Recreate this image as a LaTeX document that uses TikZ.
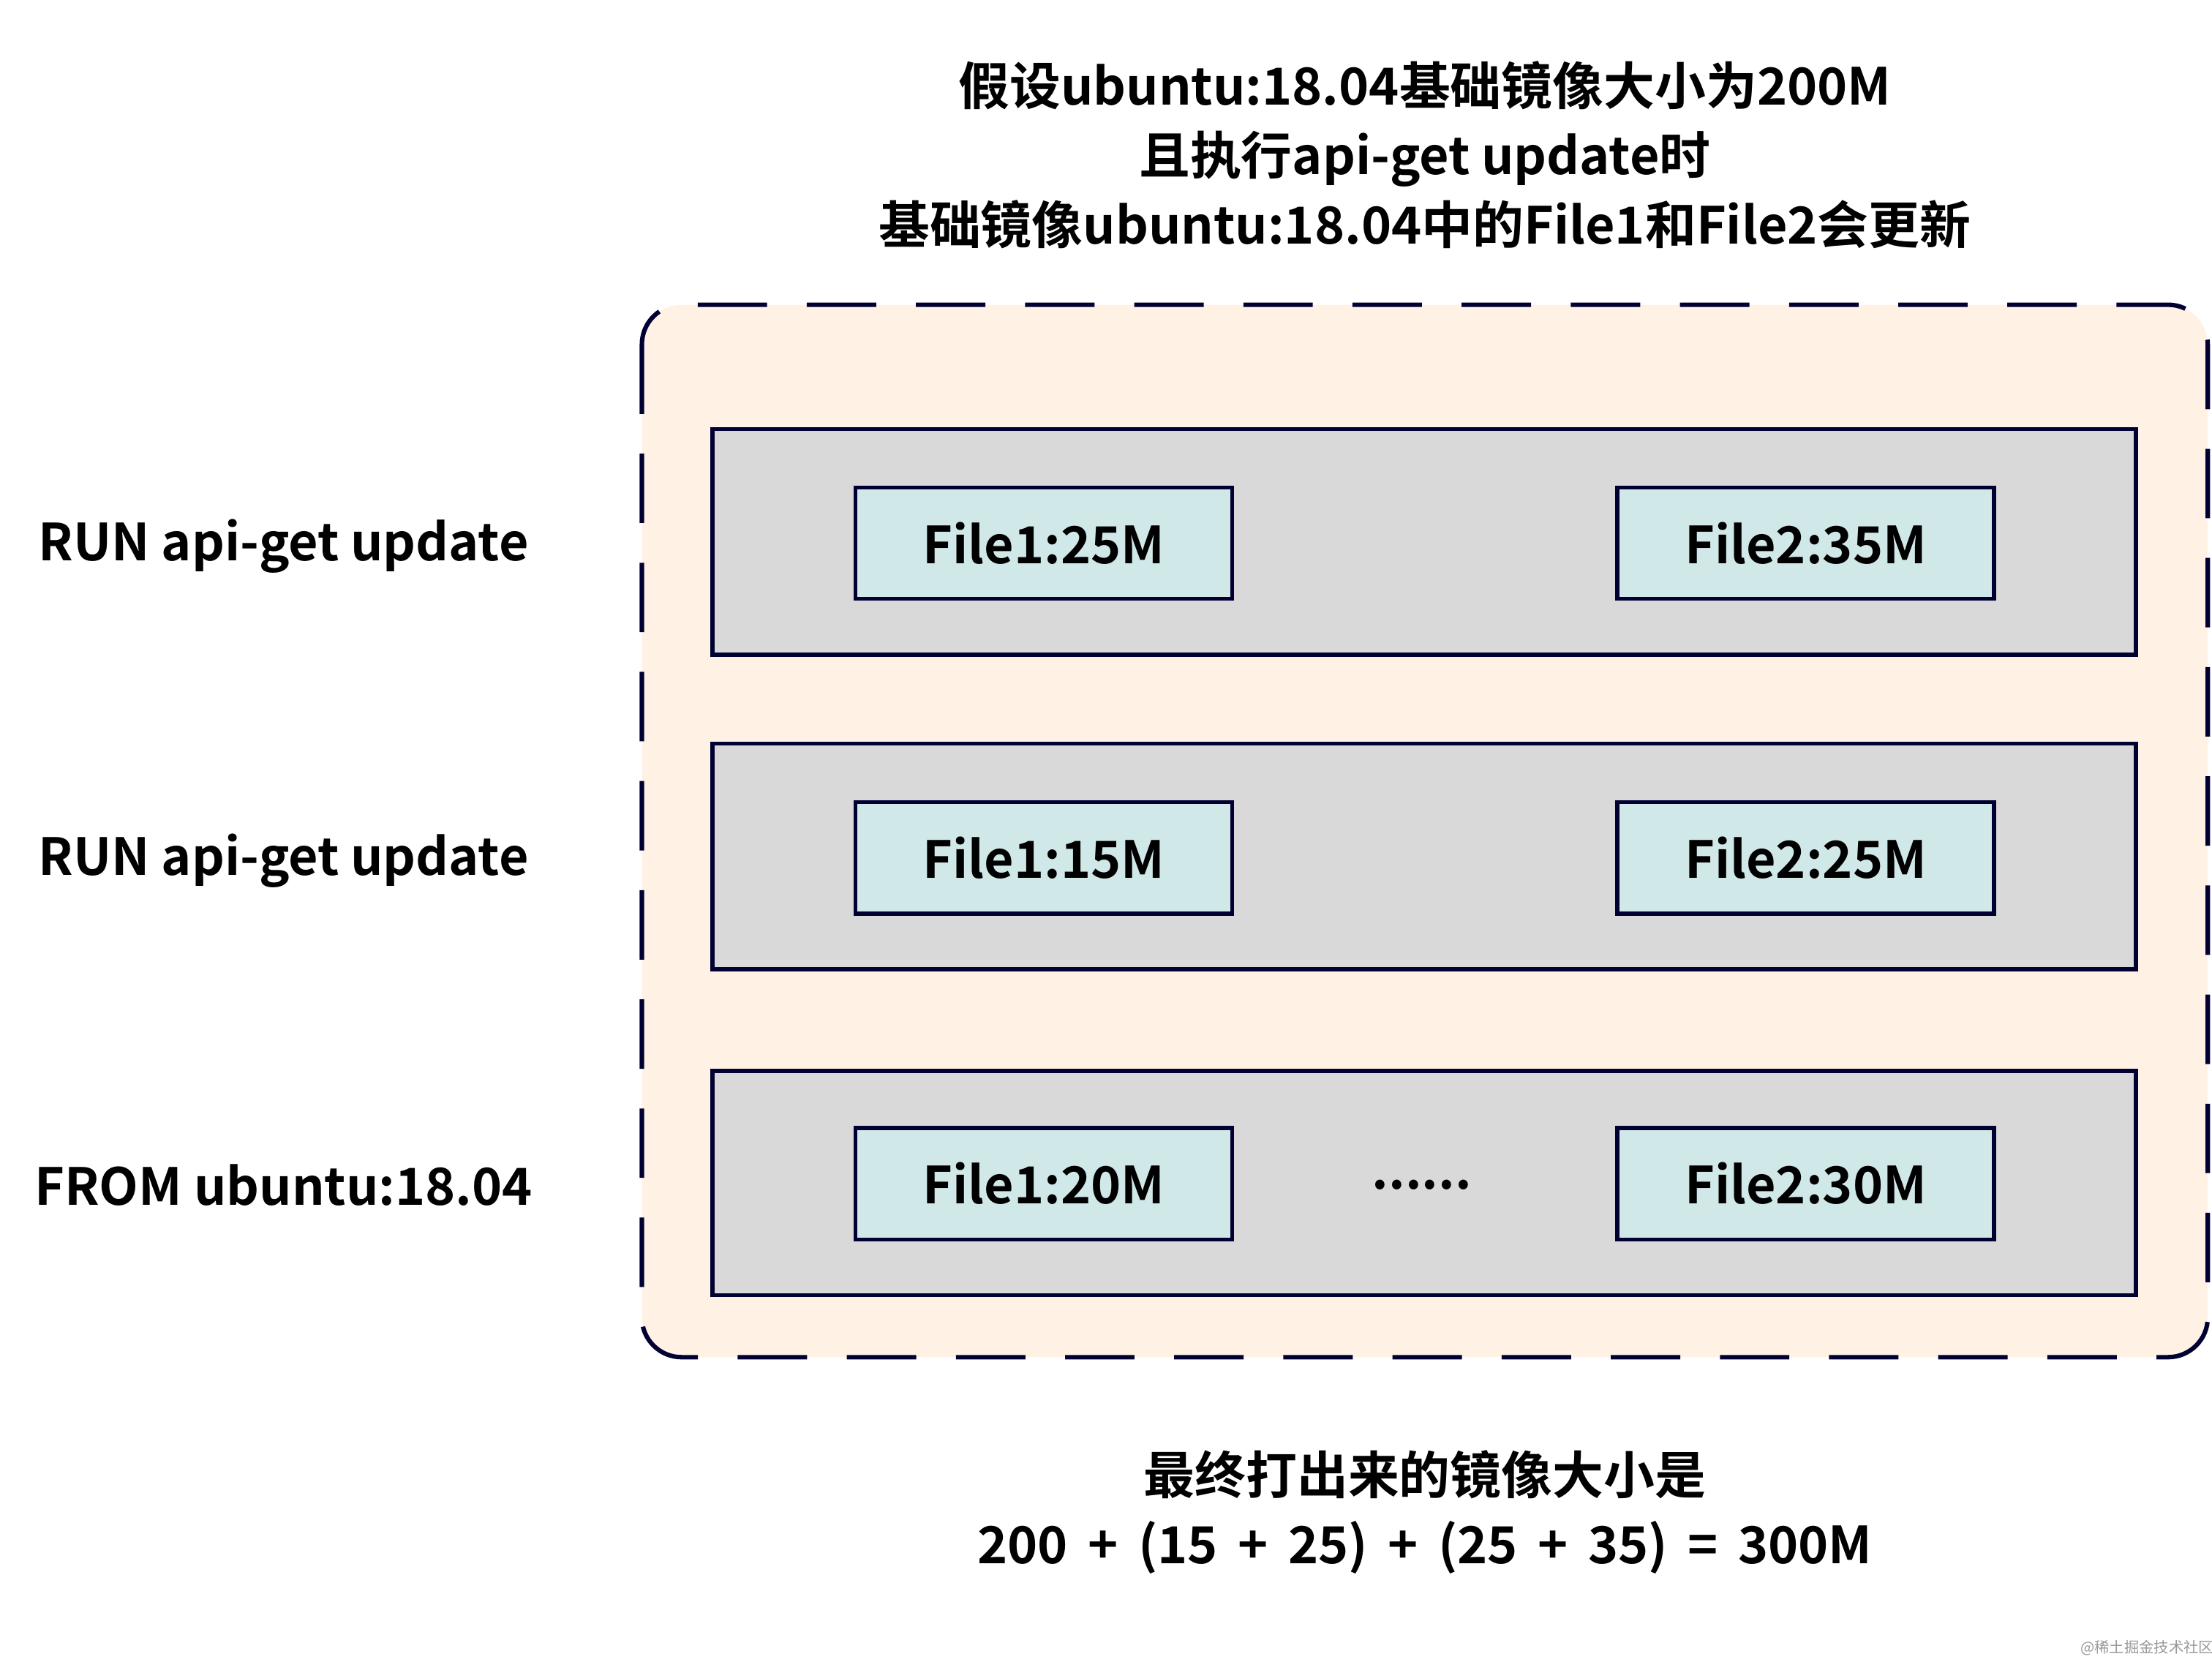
\documentclass[tikz,border=0pt]{standalone}
\usepackage{fontspec}
\setmainfont{Noto Sans CJK SC}[BoldFont={Noto Sans CJK SC Bold}]
\begin{document}
\begin{tikzpicture}[x=0.01cm,y=-0.01cm,
 txt/.style={font=\fontsize{10.3pt}{13pt}\selectfont\bfseries,align=center},
 layer/.style={draw=black!80!blue,line width=0.8pt,fill=black!15},
 file/.style={draw=black!80!blue,line width=0.8pt,fill=teal!18!white,minimum width=2.67cm,minimum height=0.79cm,inner sep=0pt,txt}]
\useasboundingbox (0,0) rectangle (1568,1178);
\node[txt] (title) at (1010,110) {假设ubuntu:18.04基础镜像大小为200M\\[1pt]且执行api-get update时\\[1pt]基础镜像ubuntu:18.04中的File1和File2会更新};
\draw[draw=black!80!blue,line width=0.9pt,dash pattern=on 14pt off 8pt,fill=orange!10,rounded corners=8] (455,216) rectangle (1565,962);
\draw[layer] (505,304) rectangle (1514,464);
\draw[layer] (505,527) rectangle (1514,687);
\draw[layer] (505,759) rectangle (1514,918);
\node[file] (a1) at (740,385) {File1:25M};
\node[file] (a2) at (1280,385) {File2:35M};
\node[file] (b1) at (740,608) {File1:15M};
\node[file] (b2) at (1280,608) {File2:25M};
\node[file] (c1) at (740,839) {File1:20M};
\node[file] (c2) at (1280,839) {File2:30M};
\node[txt] (dots) at (1008,840) {......};
\node[txt] (l1) at (201,387) {RUN api-get update};
\node[txt] (l2) at (201,610) {RUN api-get update};
\node[txt] (l3) at (201,840) {FROM ubuntu:18.04};
\node[txt] (res) at (1010,1072) {最终打出来的镜像大小是\\[1pt]200 \,+\, (15 \,+\, 25) \,+\, (25 \,+\, 35) \,=\, 300M};
\node[font=\fontsize{3pt}{4pt}\selectfont,text=black!40] (wm) at (1522,1168) {@稀土掘金技术社区};
\end{tikzpicture}
\end{document}
